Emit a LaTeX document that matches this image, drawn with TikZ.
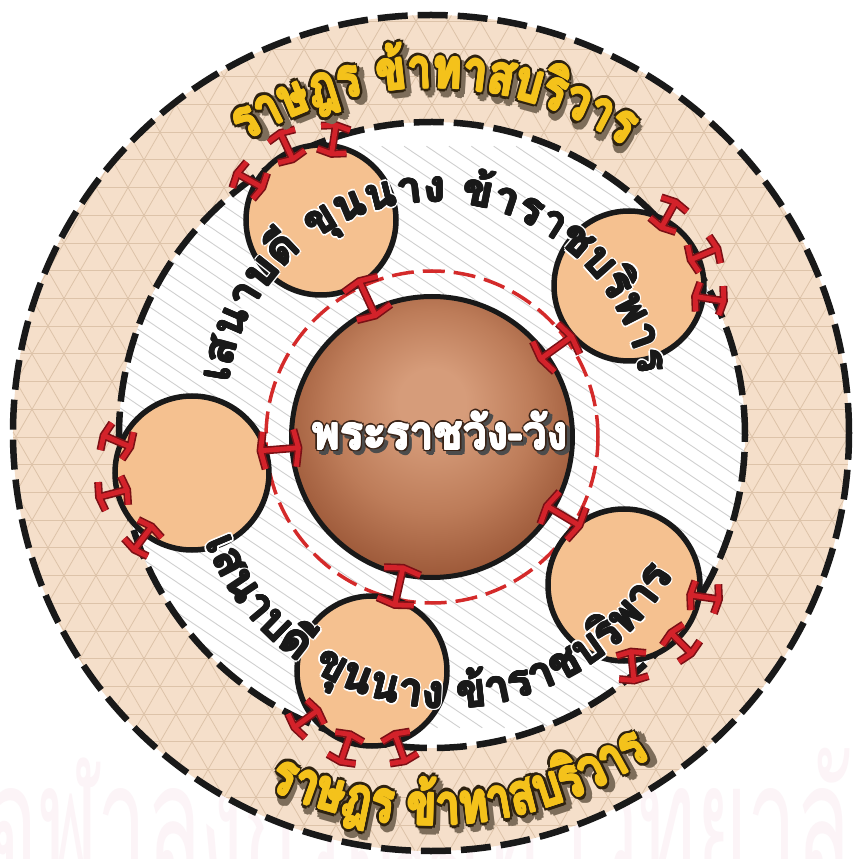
\documentclass[tikz,border=0pt]{standalone}
\usepackage{fontspec}
\usepackage{graphicx}
\usetikzlibrary{calc}
\newfontfamily\thaifont[Script=Thai]{Loma}
\definecolor{ringc}{HTML}{F5DFCA}
\definecolor{gridc}{HTML}{DDC3A9}
\definecolor{hatchc}{HTML}{D0D0D0}
\definecolor{smallc}{HTML}{F5C190}
\definecolor{ibred}{HTML}{D3222A}
\definecolor{ibdark}{HTML}{7A1015}
\definecolor{dashred}{HTML}{D42A2A}
\definecolor{yfill}{HTML}{F4C21B}
\definecolor{yout}{HTML}{2E2210}
\definecolor{shad}{HTML}{7D6D5A}
\definecolor{ctout}{HTML}{3A2418}
\definecolor{sphA}{HTML}{D69C7A}
\definecolor{sphB}{HTML}{BD7C59}
\definecolor{sphC}{HTML}{9D5939}
\definecolor{sphD}{HTML}{74371B}
\definecolor{wmark}{HTML}{FCF4F7}
\pgfdeclareradialshading{sphere}{\pgfpoint{0bp}{7bp}}{color(0bp)=(sphA); color(6bp)=(sphA); color(18bp)=(sphB); color(28bp)=(sphC); color(32bp)=(sphD); color(50bp)=(sphD)}
\makeatletter
\newdimen\arcdim
\newcommand\getnum[1]{\arcdim=#1\relax\edef\arcnum{\strip@pt\arcdim}}
\makeatother
\newbox\arcbox
\newcommand\measure[1]{\pgfinterruptpicture\global\setbox\arcbox\hbox{#1}\endpgfinterruptpicture}
\newdimen\olw
\newcommand\basefont{\thaifont\bfseries\fontsize{20pt}{24pt}\selectfont}
\newcommand\olcp[3]{\rlap{\kern#1\olw\raise#2\olw\hbox{#3}}}
\newcommand\olset[1]{\olcp{1}{0}{#1}\olcp{.7}{.7}{#1}\olcp{0}{1}{#1}\olcp{-.7}{.7}{#1}\olcp{-1}{0}{#1}\olcp{-.7}{-.7}{#1}\olcp{0}{-1}{#1}\olcp{.7}{-.7}{#1}}
\newcommand\ytxt[1]{{\basefont\olw=1.5pt\rlap{\kern2pt\lower2pt\hbox{\color{shad}\olset{#1}#1}}{\color{yout}\olset{#1}}\olw=0.4pt{\color{yfill}\olset{#1}}\textcolor{yfill}{#1}}}
\newcommand\btxt[1]{{\basefont\olw=1.1pt{\color{white}\olset{#1}}\olw=0.35pt{\color{black!90}\olset{#1}}\textcolor{black!90}{#1}}}
\newcommand\wtxt[1]{{\basefont\olw=1.1pt\rlap{\kern1.6pt\lower1.6pt\hbox{\color{black!70}\olset{#1}#1}}{\color{ctout}\olset{#1}}\olw=0.35pt{\color{white}\olset{#1}}\textcolor{white}{#1}}}
% #1 centre, #2 baseline radius, #3 centre angle, #4 span, #5 dir, #6 letter height, #7 style, #8 clusters
\newcommand\arctext[8]{%
  \measure{\foreach \cl in {#8}{#7{\cl}}}%
  \getnum{\wd\arcbox}%
  \pgfmathsetmacro\arcX{#4*0.01745329*#2/\arcnum}%
  \measure{\basefont น}%
  \getnum{\ht\arcbox}%
  \pgfmathsetmacro\arcY{#6/\arcnum}%
  \pgfmathsetmacro\arcS{#3-#5*#4/2}%
  \xdef\arcCur{\arcS}%
  \foreach \cl in {#8}{%
    \measure{#7{\cl}}%
    \getnum{\wd\arcbox}%
    \pgfmathsetmacro\arcDa{#5*\arcnum*\arcX/#2*57.29578}%
    \pgfmathsetmacro\arcMid{\arcCur+\arcDa/2}%
    \pgfmathsetmacro\arcRot{\arcMid+#5*90}%
    \node[anchor=base, inner sep=0pt, outer sep=0pt, rotate=\arcRot, xscale=\arcX, yscale=\arcY] at ($(#1)+(\arcMid:#2)$) {#7{\cl}};
    \pgfmathsetmacro\arcNext{\arcCur+\arcDa}%
    \xdef\arcCur{\arcNext}%
  }%
}
\newcommand\ibeam[3]{%
  \draw[ibout] (#2) -- (#3) ($(#2)!#1pt!79:(#3)$) -- (#2) -- ($(#2)!#1pt!-79:(#3)$) ($(#3)!#1pt!79:(#2)$) -- (#3) -- ($(#3)!#1pt!-79:(#2)$);
  \draw[ibin] (#2) -- (#3) ($(#2)!#1pt!79:(#3)$) -- (#2) -- ($(#2)!#1pt!-79:(#3)$) ($(#3)!#1pt!79:(#2)$) -- (#3) -- ($(#3)!#1pt!-79:(#2)$);
}
\tikzset{
  ringdash/.style={draw=black!90, line width=6.5pt, dash pattern=on 30pt off 10pt},
  reddash/.style={draw=dashred, line width=3.5pt, dash pattern=on 22pt off 9pt},
  smallcirc/.style={circle, fill=smallc, draw=black!90, line width=5.5pt, inner sep=0pt},
  ibout/.style={draw=ibdark, line width=8pt, line join=miter},
  ibin/.style={draw=ibred, line width=4.8pt, line join=miter},
  gridline/.style={draw=gridc, line width=0.8pt},
  hatchline/.style={draw=hatchc, line width=0.9pt},
}
\begin{document}
\begin{tikzpicture}[x=1pt,y=1pt]
\useasboundingbox (-432,-422) rectangle (421,437);
\fill[white] (-432,-422) rectangle (421,437);
% faint watermark
\measure{\thaifont จุฬาลงกรณ์มหาวิทยาลัย}\getnum{\wd\arcbox}\pgfmathsetmacro\wmX{915/\arcnum}
\measure{\thaifont น}\getnum{\ht\arcbox}\pgfmathsetmacro\wmY{95/\arcnum}
\node[text=wmark, inner sep=0pt, anchor=base west, xscale=\wmX, yscale=\wmY] (wm) at (-447,-447) {\thaifont จุฬาลงกรณ์มหาวิทยาลัย};
% outer ring
\begin{scope}
  \clip (-1,4) circle (418);
  \fill[ringc] (-432,-422) rectangle (421,437);
  \foreach \k in {-16,...,16} \draw[gridline] (-440,\k*27.71) -- (440,\k*27.71);
  \foreach \k in {-24,...,24} {
    \draw[gridline] (\k*32,0) ++(240:500) -- ++(60:1000);
    \draw[gridline] (\k*32,0) ++(300:500) -- ++(120:1000);
  }
\end{scope}
% inner white disc with hatching
\begin{scope}
  \clip (0,2) circle (313);
  \fill[white] (0,2) circle (313);
  \foreach \k in {-27,...,27} \draw[hatchline] (\k*22.4,0) ++(146:520) -- ++(-34:1040);
\end{scope}
\draw[ringdash] (-1,4) circle (418);
\draw[ringdash] (0,2) circle (313);
\draw[reddash] (0,0) circle (166);
% palace
\node[circle, minimum size=281pt, inner sep=0pt, shading=sphere, draw=black!90, line width=5pt] (pal) at (0,0) {};
% small circles
\node[smallcirc, minimum size=150pt] (TL) at (-111,217) {};
\node[smallcirc, minimum size=150pt] (TR) at (197,151) {};
\node[smallcirc, minimum size=154pt] (L) at (-240,-36) {};
\node[smallcirc, minimum size=152pt] (BR) at (192,-148) {};
\node[smallcirc, minimum size=150pt] (B) at (-60,-234) {};
% inner I-beams
\foreach \a [count=\i] in {115,35.7,184.6,-31,257.5} {
  \coordinate (ia\i) at (\a:134);
  \coordinate (ib\i) at (\a:172);
  \ibeam{19}{ia\i}{ib\i}
}
% outer I-beams
\foreach \c/\a [count=\i] in {TL/151,TL/115,TL/81,TR/61,TR/23,TR/-9,L/157,L/194.5,L/233,BR/-8.6,BR/-45.5,BR/-84,B/216,B/251,B/290} {
  \coordinate (oa\i) at ($(\c)+(\a:67)$);
  \coordinate (ob\i) at ($(\c)+(\a:96)$);
  \ibeam{15}{oa\i}{ob\i}
}
% texts
\arctext{3,27}{208}{91}{163}{-1}{25}{\btxt}{เ,ส,น,า,บ,ดี,\ ,ขุ,น,น,า,ง,\ ,ข้,า,ร,า,ช,บ,ริ,พ,า,ร}
\arctext{15,-12.4}{259}{266}{130}{1}{26}{\btxt}{เ,ส,น,า,บ,ดี,\ ,ขุ,น,น,า,ง,\ ,ข้,า,ร,า,ช,บ,ริ,พ,า,ร}
\arctext{0,0}{349}{89.5}{66}{-1}{31}{\ytxt}{ร,า,ษ,ฎ,ร,\ ,ข้,า,ท,า,ส,บ,ริ,ว,า,ร}
\arctext{0,0}{388}{-85.3}{59.5}{1}{32}{\ytxt}{ร,า,ษ,ฎ,ร,\ ,ข้,า,ท,า,ส,บ,ริ,ว,า,ร}
\node[inner sep=0pt] (ctext) at (8,4.5) {\resizebox{256pt}{40pt}{\wtxt{พระราชวัง-วัง}}};
\end{tikzpicture}
\end{document}
